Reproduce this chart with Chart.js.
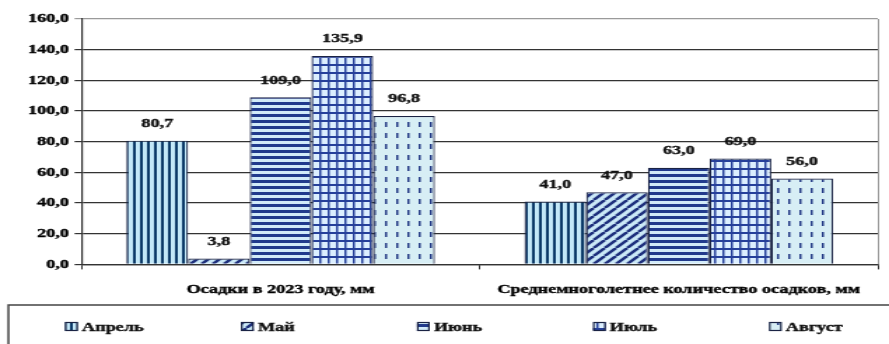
<!DOCTYPE html>
<html>
<head>
<meta charset="utf-8">
<script src="https://cdn.jsdelivr.net/npm/chart.js@4"></script>
<style>
  html, body { margin: 0; padding: 0; background: #fff; overflow: hidden; }
  /* the source picture is stretched sideways, so the chart is drawn narrow and widened */
  #wrap { width: 635px; height: 344px; position: relative; transform: scaleX(1.4); transform-origin: 0 0; }
</style>
</head>
<body>
<div id="wrap"><canvas id="chart"></canvas></div>
<script>
// --- Data ---
const categories = ["Осадки в 2023 году, мм", "Среднемноголетнее количество осадков, мм"];
const months = ["Апрель", "Май", "Июнь", "Июль", "Август"];
const april = [80.7, 41.0];
const may = [3.8, 47.0];
const june = [109.0, 63.0];
const july = [135.9, 69.0];
const august = [96.8, 56.0];
const yTicks = [0, 20, 40, 60, 80, 100, 120, 140, 160];

const FONT = "'Liberation Serif', 'Times New Roman', serif";
const fmt = v => v.toFixed(1).replace('.', ',');

// --- Fill patterns ---
function makePattern(kind) {
    const c = document.createElement('canvas');
    const x = c.getContext('2d');
    if (kind === 'vert') {
        c.width = 5; c.height = 5;
        x.fillStyle = '#c3e8f8'; x.fillRect(0, 0, 5, 5);
        x.fillStyle = '#0c3a68'; x.fillRect(0, 0, 2, 5);
    } else if (kind === 'diag') {
        c.width = 8; c.height = 8;
        x.fillStyle = '#cbe9f7'; x.fillRect(0, 0, 8, 8);
        x.strokeStyle = '#1d2f7c'; x.lineWidth = 2.5;
        for (let o = -8; o <= 16; o += 8) {
            x.beginPath(); x.moveTo(o, 8); x.lineTo(o + 8, 0); x.stroke();
        }
    } else if (kind === 'horiz') {
        c.width = 6; c.height = 6;
        x.fillStyle = '#d2ebf9'; x.fillRect(0, 0, 6, 6);
        x.fillStyle = '#213a8c'; x.fillRect(0, 0, 6, 3);
    } else if (kind === 'grid') {
        c.width = 6; c.height = 8;
        x.fillStyle = '#26409a'; x.fillRect(0, 0, 6, 8);
        x.fillStyle = '#dcefff'; x.fillRect(1.5, 2, 4.5, 6);
    } else {
        c.width = 8; c.height = 11;
        x.fillStyle = '#d7eef5'; x.fillRect(0, 0, 8, 11);
        x.fillStyle = '#243a86'; x.fillRect(3, 1, 1.5, 5);
    }
    return x.createPattern(c, 'repeat');
}

const seriesList = [april, may, june, july, august];
const kinds = ['vert', 'diag', 'horiz', 'grid', 'dots'];
const datasets = seriesList.map((data, i) => ({
    label: months[i],
    data: data,
    backgroundColor: makePattern(kinds[i]),
    borderColor: '#1a2344',
    borderWidth: 1.2,
    borderSkipped: 'bottom',
    barPercentage: 1,
    categoryPercentage: 0.775
}));

// --- Plugins: value labels, frame, legend box ---
const valueLabels = {
    id: 'valueLabels',
    afterDatasetsDraw(chart) {
        const ctx = chart.ctx;
        ctx.save();
        ctx.font = "bold 13px " + FONT;
        ctx.fillStyle = '#111';
        ctx.strokeStyle = '#111';
        ctx.lineWidth = 0.4;
        ctx.textAlign = 'center';
        ctx.textBaseline = 'middle';
        chart.data.datasets.forEach((ds, di) => {
            chart.getDatasetMeta(di).data.forEach((bar, i) => {
                ctx.fillText(fmt(ds.data[i]), bar.x, bar.y - 17);
                ctx.strokeText(fmt(ds.data[i]), bar.x, bar.y - 17);
            });
        });
        ctx.restore();
    }
};

const frameAndLegend = {
    id: 'frameAndLegend',
    afterDraw(chart) {
        const ctx = chart.ctx;
        const a = chart.chartArea;
        ctx.save();
        // right border of plot area
        ctx.strokeStyle = '#9a9a9a';
        ctx.lineWidth = 1;
        ctx.beginPath();
        ctx.moveTo(a.right + 0.5, a.top);
        ctx.lineTo(a.right + 0.5, a.bottom);
        ctx.stroke();

        // legend box
        ctx.strokeStyle = '#444';
        ctx.lineWidth = 1.5;
        ctx.strokeRect(6, 305, 700, 60);

        ctx.font = "bold 13px " + FONT;
        ctx.textBaseline = 'middle';
        ctx.textAlign = 'left';
        chart.data.datasets.forEach((ds, i) => {
            const sx = 46.5 + i * 125.7;
            const sy = 322;
            ctx.fillStyle = ds.backgroundColor;
            ctx.fillRect(sx, sy, 9, 9);
            ctx.strokeStyle = '#1a2344';
            ctx.lineWidth = 1.2;
            ctx.strokeRect(sx + 0.5, sy + 0.5, 8, 8);
            ctx.fillStyle = '#111';
            ctx.strokeStyle = '#111';
            ctx.lineWidth = 0.4;
            ctx.fillText(ds.label, sx + 12, sy + 6);
            ctx.strokeText(ds.label, sx + 12, sy + 6);
        });
        ctx.restore();
    }
};

new Chart(document.getElementById('chart'), {
    type: 'bar',
    data: { labels: categories, datasets: datasets },
    options: {
        responsive: true,
        maintainAspectRatio: false,
        animation: false,
        layout: { padding: { left: 16, right: 8, top: 19, bottom: 35 } },
        plugins: {
            legend: { display: false },
            tooltip: { enabled: false }
        },
        scales: {
            x: {
                grid: { drawOnChartArea: false, drawTicks: true, tickLength: 5, color: '#333', offset: true },
                border: { color: '#333', width: 1.2 },
                ticks: {
                    color: '#000', padding: 12,
                    textStrokeColor: '#000', textStrokeWidth: 0.4,
                    font: { family: FONT, size: 13, weight: 'bold' }
                }
            },
            y: {
                min: 0,
                max: 160,
                afterBuildTicks(axis) { axis.ticks = yTicks.map(v => ({ value: v })); },
                grid: {
                    color: c => c.tick && c.tick.value === 160 ? '#9a9a9a' : '#333',
                    lineWidth: 1.2,
                    tickLength: 5
                },
                border: { color: '#333', width: 1.2 },
                ticks: {
                    color: '#000',
                    padding: 4,
                    textStrokeColor: '#000', textStrokeWidth: 0.4,
                    font: { family: FONT, size: 13, weight: 'bold' },
                    callback: v => fmt(v)
                }
            }
        }
    },
    plugins: [valueLabels, frameAndLegend]
});
</script>
</body>
</html>
